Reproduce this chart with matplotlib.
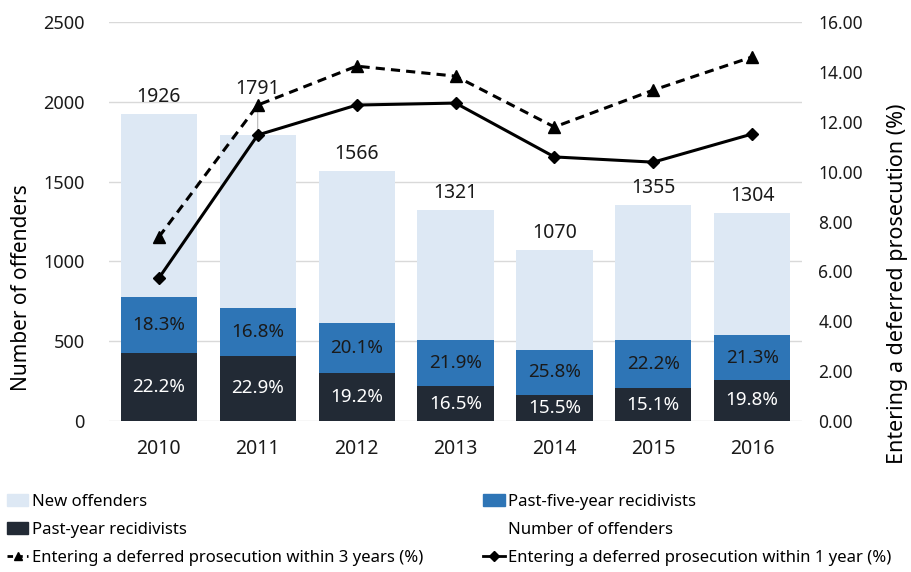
import matplotlib
matplotlib.use("Agg")
import matplotlib.pyplot as plt
from matplotlib.lines import Line2D
from matplotlib.patches import Patch

years = ["2010", "2011", "2012", "2013", "2014", "2015", "2016"]
total = [1926, 1791, 1566, 1321, 1070, 1355, 1304]
past_year = [428, 410, 301, 218, 166, 205, 258]
past_five = [352, 301, 315, 289, 276, 301, 278]
past_year_pct = ["22.2%", "22.9%", "19.2%", "16.5%", "15.5%", "15.1%", "19.8%"]
past_five_pct = ["18.3%", "16.8%", "20.1%", "21.9%", "25.8%", "22.2%", "21.3%"]
within3 = [7.38, 12.67, 14.23, 13.83, 11.79, 13.27, 14.60]
within1 = [5.73, 11.47, 12.67, 12.75, 10.59, 10.38, 11.51]

new_off = [t - a - b for t, a, b in zip(total, past_year, past_five)]

plt.rcParams['font.family'] = ['Noto Sans', 'DejaVu Sans']

c_new = '#dde8f4'
c_five = '#2e75b6'
c_year = '#222a35'
txt = '#1a1a1a'

fig = plt.figure(figsize=(9.12, 5.72), dpi=100)
ax = fig.add_axes([0.12, 0.264, 0.759, 0.6975])
x = list(range(len(years)))
w = 0.77

ax.bar(x, past_year, w, color=c_year, zorder=2)
ax.bar(x, past_five, w, bottom=past_year, color=c_five, zorder=2)
bot2 = [a + b for a, b in zip(past_year, past_five)]
ax.bar(x, new_off, w, bottom=bot2, color=c_new, zorder=2)

for i in x:
    ax.text(i, past_year[i] / 2, past_year_pct[i], ha='center', va='center',
            color='white', fontsize=13.5, zorder=3)
    ax.text(i, past_year[i] + past_five[i] / 2, past_five_pct[i], ha='center',
            va='center', color=txt, fontsize=13.5, zorder=3)
    if i == 1:
        ax.annotate(str(total[i]), xy=(i, total[i]), xytext=(0, 26),
                    textcoords='offset points', ha='center', va='bottom',
                    fontsize=14, color=txt,
                    arrowprops=dict(arrowstyle='-', color='#a0a0a0', lw=0.6,
                                    shrinkA=0, shrinkB=0), zorder=3)
    else:
        ax.annotate(str(total[i]), xy=(i, total[i]), xytext=(0, 5),
                    textcoords='offset points', ha='center', va='bottom',
                    fontsize=14, color=txt, zorder=3)

ax.set_xlim(-0.5, 6.5)
ax.set_ylim(0, 2500)
ax.set_yticks(range(0, 2501, 500))
ax.set_xticks(x)
ax.set_xticklabels(years)
ax.yaxis.grid(True, color='#d9d9d9', lw=1, zorder=0)
ax.set_axisbelow(True)
for s in ax.spines.values():
    s.set_visible(False)
ax.tick_params(length=0, labelsize=13, colors=txt)
ax.tick_params(axis='x', pad=13, labelsize=14)
ax.tick_params(axis='y', pad=18)
ax.set_ylabel("Number of offenders", fontsize=15)
ax.yaxis.set_label_coords(-0.112, 0.335)

ax2 = ax.twinx()
ax2.plot(x, within3, color='black', lw=2.2, ls=(0, (3, 2)), marker='^',
         markersize=8, zorder=4)
ax2.plot(x, within1, color='black', lw=2.2, marker='D', markersize=6.5,
         zorder=4)
ax2.set_ylim(0, 16)
ax2.set_yticks(range(0, 17, 2))
ax2.set_yticklabels(["%.2f" % v for v in range(0, 17, 2)])
for s in ax2.spines.values():
    s.set_visible(False)
ax2.tick_params(length=0, labelsize=12.5, colors=txt, pad=12)
ax2.set_ylabel("Entering a deferred prosecution (%)", fontsize=15.5, rotation=90)
ax2.yaxis.set_label_coords(1.124, 0.345)

handles = [
    Patch(color=c_new, label="New offenders"),
    Patch(color=c_year, label="Past-year recidivists"),
    Line2D([], [], color='black', lw=2, ls=(0, (2, 1.5)), marker='^',
           markersize=6, label="Entering a deferred prosecution within 3 years (%)"),
    Patch(color=c_five, label="Past-five-year recidivists"),
    Line2D([], [], ls='none', label="Number of offenders"),
    Line2D([], [], color='black', lw=2, marker='D', markersize=5,
           label="Entering a deferred prosecution within 1 year (%)"),
]
fig.legend(handles=handles, ncol=2, loc='upper left',
           bbox_to_anchor=(0.0, 0.148), frameon=False,
           prop={'size': 12}, handlelength=1.3,
           handletextpad=0.2, columnspacing=3.6, labelspacing=0.72,
           borderaxespad=0)

fig.savefig("out.png", dpi=100)
